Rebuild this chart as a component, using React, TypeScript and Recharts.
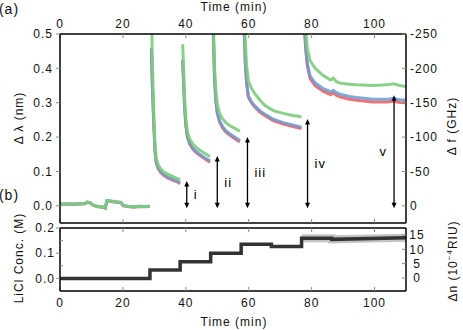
import React from 'react'
import { LineChart, Line, XAxis, YAxis, ReferenceLine } from 'recharts'

const FONT = '"Liberation Sans", Arial, Helvetica, sans-serif'

// (a) wavelength shift, time in min; null breaks the trace between injections
const timeTop = [
  0, 2, 4, 6, 8, 8.6, 9.6, 10.6, 12, 13.5, 14.4, 14.9, 16, 17.5, 19.4, 20.1, 21.5, 23.5, 25.5, 27, 28.5,
  28.8,
  29.05, 29.3, 29.6, 29.9, 30.2, 30.6, 31.2, 32, 33, 34.5, 36, 37.2, 38.2,
  38.6,
  39.0, 39.3, 39.6, 40.0, 40.5, 41.2, 42.2, 43.3, 44.5, 46, 47.7,
  48.1,
  48.5, 48.8, 49.1, 49.5, 50, 50.7, 51.6, 52.7, 54, 55.5, 57.2,
  57.8,
  58.3, 58.6, 58.9, 59.3, 59.9, 61, 62, 63.5, 65.2, 67.8, 71, 74, 76.8,
  77.1,
  77.4, 77.7, 78.1, 78.6, 79.5, 81.1, 83.7, 86.0, 86.9, 87.8, 89, 92, 94.3, 99.5, 104, 106, 108, 110,
]

const redShift = [
  0.004, 0.005, 0.004, 0.005, 0.006, 0.01, 0.008, 0.001, -0.003, -0.004, -0.007, 0.014, 0.013, 0.011, 0.009, 0.0, -0.002, -0.004, -0.002, -0.003, -0.002,
  null,
  0.46, 0.37, 0.29, 0.22, 0.16, 0.125, 0.108, 0.097, 0.088, 0.08, 0.074, 0.07, 0.064,
  null,
  0.425, 0.36, 0.29, 0.235, 0.2, 0.18, 0.165, 0.155, 0.146, 0.137, 0.127,
  null,
  0.62, 0.48, 0.38, 0.31, 0.27, 0.245, 0.228, 0.215, 0.205, 0.196, 0.186,
  null,
  0.62, 0.5, 0.42, 0.36, 0.316, 0.298, 0.287, 0.273, 0.262, 0.248, 0.238, 0.231, 0.225,
  null,
  0.62, 0.52, 0.46, 0.41, 0.37, 0.35, 0.333, 0.324, 0.328, 0.322, 0.317, 0.31, 0.307, 0.302, 0.302, 0.304, 0.301, 0.3,
]

const blueShift = [
  0.005, 0.006, 0.005, 0.006, 0.007, 0.011, 0.009, 0.002, -0.002, -0.003, -0.006, 0.015, 0.014, 0.012, 0.01, 0.001, -0.001, -0.003, -0.001, -0.002, -0.001,
  null,
  0.46, 0.37, 0.29, 0.22, 0.16, 0.128, 0.111, 0.1, 0.091, 0.083, 0.077, 0.073, 0.068,
  null,
  0.425, 0.36, 0.29, 0.238, 0.203, 0.183, 0.168, 0.158, 0.149, 0.14, 0.131,
  null,
  0.62, 0.48, 0.38, 0.31, 0.272, 0.248, 0.232, 0.219, 0.209, 0.2, 0.19,
  null,
  0.62, 0.5, 0.42, 0.36, 0.319, 0.301, 0.29, 0.277, 0.266, 0.252, 0.242, 0.235, 0.229,
  null,
  0.62, 0.52, 0.46, 0.415, 0.378, 0.358, 0.341, 0.332, 0.336, 0.33, 0.325, 0.318, 0.315, 0.31, 0.31, 0.312, 0.309, 0.308,
]

const greenShift = [
  0.005, 0.006, 0.005, 0.006, 0.007, 0.011, 0.009, 0.002, -0.002, -0.003, -0.006, 0.015, 0.014, 0.012, 0.01, 0.001, -0.001, -0.003, -0.001, -0.002, -0.001,
  null,
  0.62, 0.45, 0.34, 0.25, 0.18, 0.137, 0.12, 0.108, 0.099, 0.091, 0.085, 0.08, 0.076,
  null,
  0.47, 0.4, 0.32, 0.255, 0.215, 0.195, 0.18, 0.17, 0.162, 0.153, 0.143,
  null,
  0.65, 0.52, 0.41, 0.34, 0.295, 0.27, 0.254, 0.242, 0.233, 0.226, 0.217,
  null,
  0.65, 0.56, 0.48, 0.41, 0.364, 0.34, 0.326, 0.308, 0.292, 0.277, 0.269, 0.263, 0.259,
  null,
  0.65, 0.58, 0.52, 0.46, 0.423, 0.4, 0.379, 0.366, 0.372, 0.362, 0.357, 0.354, 0.352, 0.35, 0.352, 0.355, 0.35, 0.347,
]

// injection arrows
const arrowTime = [40.3, 50.0, 59.6, 78.7, 106.2]
const arrowTop = [0.072, 0.145, 0.2, 0.253, 0.322]
const arrowBottom = -0.007
const arrowName = ['i', 'ii', 'iii', 'iv', 'v']

// (b) LiCl concentration steps
const concTime = [0, 28.6, 28.6, 38.2, 38.2, 47.9, 47.9, 57.6, 57.6, 67.2, 67.2, 76.8, 76.8, 86.4, 86.4, 110]
const concValue = [0, 0, 0.033, 0.033, 0.066, 0.066, 0.1, 0.1, 0.136, 0.136, 0.127, 0.127, 0.159, 0.159, 0.155, 0.161]

const timeTicks = [0, 20, 40, 60, 80, 100]
const shiftTicks = [0, 0.1, 0.2, 0.3, 0.4, 0.5]
const freqTicks = [-250, -200, -150, -100, -50, 0]
const concTicks = [0, 0.1, 0.2]
const concMinorTicks = [0.05, 0.15]
const indexTicks = [0, 5, 10, 15]

const topRows = timeTop.map((t, i) => ({ t, red: redShift[i], blue: blueShift[i], green: greenShift[i] }))
const concRows = concTime.map((t, i) => ({
  t,
  conc: concValue[i],
  halo: i >= 12 ? concValue[i] : null,
}))

const blank = () => ''
const tickText = { fill: '#111', fontSize: 12 }
const frame = { stroke: '#000', strokeWidth: 1.5 }

function Arrow(props: any) {
  const { x1, y1, y2 } = props
  const top = Math.min(y1, y2)
  const bot = Math.max(y1, y2)
  return (
    <g>
      <line x1={x1} x2={x1} y1={top + 4} y2={bot - 4} stroke="#000" strokeWidth={1.3} />
      <path d={`M${x1},${top} l-2.5,5.5 h5 z`} fill="#000" />
      <path d={`M${x1},${bot} l-2.5,-5.5 h5 z`} fill="#000" />
    </g>
  )
}

function Caption({ x, y, angle = 0, size = 12, children }: any) {
  return (
    <div
      style={{
        position: 'absolute',
        left: x,
        top: y,
        transform: `translate(-50%, -50%) rotate(${angle}deg)`,
        fontSize: size,
        lineHeight: 1,
        whiteSpace: 'nowrap',
        color: '#111',
      }}
    >
      {children}
    </div>
  )
}

export default function App() {
  return (
    <div
      style={{
        position: 'absolute',
        left: 0,
        top: 0,
        width: 463,
        height: 330,
        background: '#fff',
        fontFamily: FONT,
        letterSpacing: 1,
      }}
    >
      <div style={{ position: 'absolute', left: 0, top: 0 }}>
        <LineChart width={463} height={226} data={topRows} margin={{ top: 0, right: 0, bottom: 3, left: 0 }}>
          <XAxis xAxisId="top" orientation="top" type="number" dataKey="t" domain={[0, 110]} ticks={timeTicks}
            interval={0} allowDataOverflow height={34} tickSize={0} tickMargin={6} axisLine={frame} tick={tickText} />
          <XAxis xAxisId="topIn" orientation="top" mirror type="number" dataKey="t" domain={[0, 110]} ticks={timeTicks}
            interval={0} tickSize={4} tickFormatter={blank} axisLine={false} tickLine={{ stroke: '#888' }} />
          <XAxis xAxisId="botIn" orientation="bottom" mirror type="number" dataKey="t" domain={[0, 110]} ticks={timeTicks}
            interval={0} tickSize={4} tickFormatter={blank} axisLine={frame} tickLine={{ stroke: '#888' }} />
          <YAxis yAxisId="nm" orientation="left" type="number" domain={[-0.05, 0.5]} ticks={shiftTicks} allowDataOverflow
            interval={0} width={60} tickSize={4} tickMargin={3} tickFormatter={(v: number) => v.toFixed(1)} axisLine={frame}
            tickLine={{ stroke: '#888' }} tick={tickText} />
          <YAxis yAxisId="ghz" orientation="right" type="number" reversed domain={[-250, 25]} ticks={freqTicks}
            interval={0} allowDataOverflow width={57} tickSize={0} tickMargin={4} axisLine={frame} tick={tickText} />
          <YAxis yAxisId="ghzIn" orientation="right" mirror type="number" reversed domain={[-250, 25]} ticks={freqTicks}
            interval={0} allowDataOverflow tickSize={4} tickFormatter={blank} axisLine={false} tickLine={{ stroke: '#888' }} />
          <Line xAxisId="top" yAxisId="nm" dataKey="red" stroke="#ee6464" strokeWidth={3} strokeOpacity={0.9}
            dot={false} type="linear" isAnimationActive={false} />
          <Line xAxisId="top" yAxisId="nm" dataKey="blue" stroke="#6a9ad2" strokeWidth={3} strokeOpacity={0.85}
            dot={false} type="linear" isAnimationActive={false} />
          <Line xAxisId="top" yAxisId="nm" dataKey="green" stroke="#7ccc7c" strokeWidth={3} strokeOpacity={0.9}
            dot={false} type="linear" isAnimationActive={false} />
          {arrowTime.map((t, i) => (
            <ReferenceLine
              key={arrowName[i]}
              xAxisId="top"
              yAxisId="nm"
              stroke="#000"
              segment={[{ x: t, y: arrowBottom }, { x: t, y: arrowTop[i] }]}
              shape={Arrow}
              label={{ value: arrowName[i], position: i === 4 ? 'left' : 'right', offset: 7, fill: '#000', stroke: 'none', fontSize: 13 }}
            />
          ))}
        </LineChart>
      </div>

      <div style={{ position: 'absolute', left: 0, top: 214 }}>
        <LineChart width={463} height={116} data={concRows} margin={{ top: 14, right: 0, bottom: 0, left: 0 }}>
          <XAxis xAxisId="bot" orientation="bottom" type="number" dataKey="t" domain={[0, 110]} ticks={timeTicks}
            interval={0} height={39} tickSize={0} tickMargin={7} axisLine={frame} tick={tickText} />
          <XAxis xAxisId="botIn" orientation="bottom" mirror type="number" dataKey="t" domain={[0, 110]} ticks={timeTicks}
            interval={0} tickSize={4} tickFormatter={blank} axisLine={false} tickLine={{ stroke: '#888' }} />
          <XAxis xAxisId="topIn" orientation="top" mirror type="number" dataKey="t" domain={[0, 110]} ticks={timeTicks}
            interval={0} tickSize={4} tickFormatter={blank} axisLine={frame} tickLine={{ stroke: '#888' }} />
          <YAxis yAxisId="m" orientation="left" type="number" domain={[-0.05, 0.2]} ticks={concTicks} allowDataOverflow
            interval={0} width={60} tickSize={4} tickMargin={1} tickFormatter={(v: number) => v.toFixed(1)} axisLine={frame}
            tickLine={{ stroke: '#888' }} tick={tickText} />
          <YAxis yAxisId="mIn" orientation="left" mirror type="number" domain={[-0.05, 0.2]} ticks={concMinorTicks}
            interval={0} allowDataOverflow tickSize={3} tickFormatter={blank} axisLine={false} tickLine={{ stroke: '#888' }} />
          <YAxis yAxisId="riu" orientation="right" type="number" domain={[-4.5, 17.4]} ticks={indexTicks}
            interval={0} allowDataOverflow width={57} tickSize={0} tickMargin={11} axisLine={frame}
            tick={{ ...tickText, textAnchor: 'middle' }} />
          <YAxis yAxisId="riuIn" orientation="right" mirror type="number" domain={[-4.5, 17.4]} ticks={indexTicks}
            interval={0} allowDataOverflow tickSize={4} tickFormatter={blank} axisLine={false} tickLine={{ stroke: '#888' }} />
          <Line xAxisId="bot" yAxisId="m" dataKey="halo" stroke="#c4c4c4" strokeWidth={8} dot={false} type="linear"
            isAnimationActive={false} />
          <Line xAxisId="bot" yAxisId="m" dataKey="conc" stroke="#333" strokeWidth={3.5} dot={false} type="linear"
            isAnimationActive={false} />
        </LineChart>
      </div>

      <Caption x={9} y={9} size={14}>(a)</Caption>
      <Caption x={9} y={195} size={14}>(b)</Caption>
      <Caption x={234} y={7}>Time (min)</Caption>
      <Caption x={234} y={322}>Time (min)</Caption>
      <Caption x={19} y={118} angle={-90}>Δ λ (nm)</Caption>
      <Caption x={19} y={258} angle={-90}>LiCl Conc. (M)</Caption>
      <Caption x={452} y={126} angle={-90}>Δ f (GHz)</Caption>
      <Caption x={452} y={261} angle={-90}>
        Δn (10<sup style={{ fontSize: 8 }}>−4</sup>RIU)
      </Caption>
    </div>
  )
}
